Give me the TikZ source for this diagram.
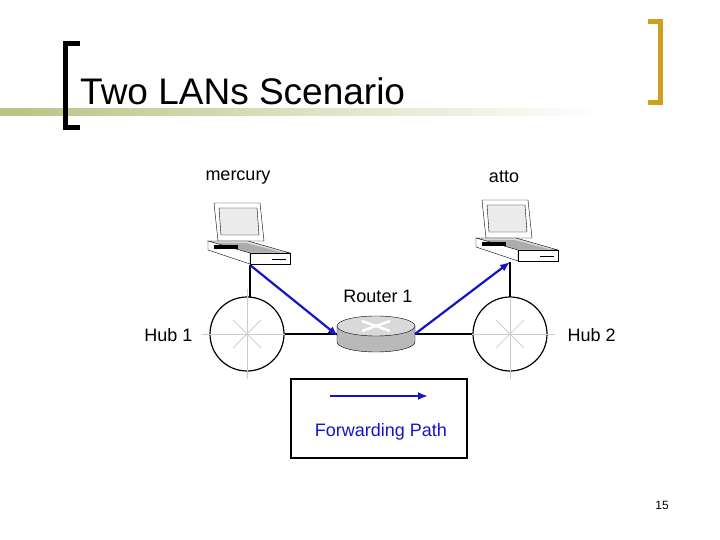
\documentclass[tikz,border=0pt]{standalone}
\usepackage{fontspec}
\setmainfont{Liberation Sans}
\usetikzlibrary{arrows.meta}
\begin{document}
\begin{tikzpicture}[x=1pt,y=-1pt,
  lbl/.style={font=\fontsize{18}{21}\selectfont},
  hub/.style={circle,draw,line width=1.2pt,minimum size=74pt,inner sep=0pt},
  fwd/.style={draw={rgb,255:red,20;green,20;blue,200},line width=2.2pt,-{Latex[length=10pt,width=8pt]}},
  wire/.style={draw,line width=1.2pt}]
\useasboundingbox (0,0) rectangle (720,540);
\fill[white] (0,0) rectangle (720,540);
% title decoration
\shade[left color={rgb,255:red,185;green,195;blue,130},right color=white] (0,109) rectangle (600,116);
\draw[line width=5pt] (80,44) -- (65,44) -- (65,128) -- (80,128);
\draw[line width=5pt,color={rgb,255:red,205;green,160;blue,30}] (648,22) -- (660,22) -- (660,103) -- (648,103);
\node[anchor=base west,font=\fontsize{37}{40}\selectfont,inner sep=0] (title) at (80,105) {Two LANs Scenario};
% hubs
\node[hub] (h1) at (247,334) {};
\node[hub] (h2) at (510,334) {};
\foreach \c in {h1,h2}{
  \draw[gray!50,thin] ([shift={(-14,-14)}]\c.center) -- ([shift={(14,14)}]\c.center);
  \draw[gray!50,thin] ([shift={(-14,14)}]\c.center) -- ([shift={(14,-14)}]\c.center);
  \draw[gray!40,very thin] ([xshift=-45]\c.center) -- ([xshift=45]\c.center);
  \draw[gray!40,very thin] ([yshift=-45]\c.center) -- ([yshift=45]\c.center);
}
\node[lbl,anchor=east] (h1l) at (196,335) {Hub 1};
\node[lbl,anchor=west] (h2l) at (564,335) {Hub 2};
% router
\node[minimum width=78pt,minimum height=32pt,inner sep=0] (r) at (376,334) {};
\fill[gray!55] (337,326) -- (337,342) arc[start angle=180,end angle=0,x radius=39,y radius=10] -- (415,326) -- cycle;
\draw (337,326) -- (337,342) arc[start angle=180,end angle=0,x radius=39,y radius=10] -- (415,326);
\fill[gray!30,draw=black] (376,326) ellipse[x radius=39,y radius=10];
\draw[white,line width=2.5pt] (362,321) -- (390,331) (362,331) -- (390,321);
\node[lbl] (rl) at (378,296) {Router 1};
% laptops
\foreach \n/\x/\y in {lap1/208/203,lap2/476/200}{
  \begin{scope}[shift={(\x,\y)}]
  \node[minimum width=82pt,minimum height=62pt,inner sep=0] (\n) at (41,31) {};
  \fill[white,draw=black] (6,0) -- (52,0) -- (56,38) -- (10,38) -- cycle;
  \fill[gray!15,draw=black] (11,5) -- (49,5) -- (51,32) -- (13,32) -- cycle;
  \fill[gray!30,draw=black] (0,38) -- (40,38) -- (82,50) -- (42,50) -- cycle;
  \fill[gray!65] (6,40) -- (38,40) -- (72,49) -- (40,49) -- cycle;
  \fill[white,draw=black] (0,38) -- (42,50) -- (42,61) -- (0,47) -- cycle;
  \fill[black] (6,42) rectangle (30,46);
  \fill[white,draw=black] (42,50) -- (82,50) -- (82,61) -- (42,61) -- cycle;
  \draw (64,56) -- (78,56);
  \end{scope}
}
\node[lbl] (ml) at (238,178) {mercury};
\node[lbl] (al) at (504,177) {atto};
% wires
\coordinate (l1b) at (250,265);
\coordinate (l2b) at (510,262);
\draw[wire] (l1b) -- (250,297);
\draw[wire] (l2b) -- (510,297);
\draw[wire] (h1.east) -- (337,334);
\draw[wire] (415,334) -- (h2.west);
% forwarding path
\draw[fwd] (l1b) -- (338,336);
\draw[fwd] (415,334) -- (l2b);
% legend
\node[draw,line width=1.2pt,minimum width=176pt,minimum height=79pt,inner sep=0] (leg) at (379,418.5) {};
\coordinate (la) at (330,396);
\coordinate (lb) at (428,396);
\draw[fwd] (la) -- (lb);
\node[lbl,text={rgb,255:red,20;green,20;blue,200}] (legt) at (381,432) {Forwarding Path};
\node[font=\fontsize{12}{14}\selectfont] (pg) at (662,505) {15};
\end{tikzpicture}
\end{document}
